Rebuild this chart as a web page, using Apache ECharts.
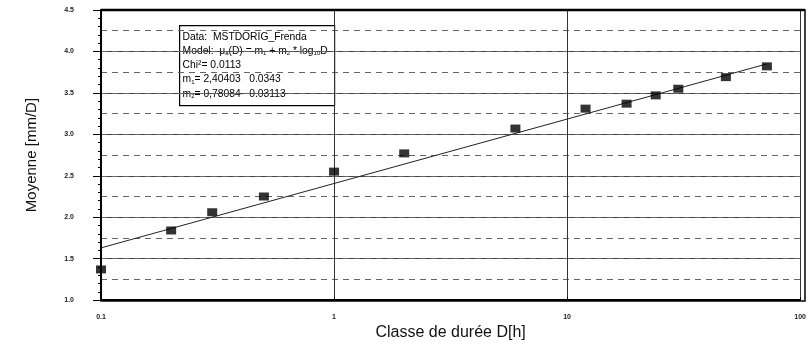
<!DOCTYPE html>
<html><head><meta charset="utf-8">
<script src="https://cdn.jsdelivr.net/npm/echarts@6/dist/echarts.min.js"></script>
<style>html,body{margin:0;padding:0;background:#fff}#c{width:809px;height:346px}</style>
</head><body><div id="c"></div>
<script>
var durations = [0.1, 0.2, 0.3, 0.5, 1, 2, 6, 12, 18, 24, 30, 48, 72];
var means = [1.37, 1.84, 2.06, 2.25, 2.55, 2.77, 3.07, 3.31, 3.37, 3.47, 3.55, 3.69, 3.82];
var fitX = [0.1, 72];
var fitY = [1.63, 3.85];
var yTicks = ['1.0','1.5','2.0','2.5','3.0','3.5','4.0','4.5'];
var xTicks = ['0.1','1','10','100'];

var pts = durations.map(function(d,i){return [d, means[i]];});
var fit = fitX.map(function(d,i){return [d, fitY[i]];});
var chart = echarts.init(document.getElementById('c'));
var F = 'Liberation Sans, Arial, sans-serif';
chart.setOption({
  animation:false,
  backgroundColor:'#fff',
  grid:{left:101, right:4, top:10, bottom:45, show:false},
  xAxis:{type:'log', logBase:10, min:0.1, max:100,
    name:'Classe de durée D[h]', nameLocation:'middle', nameGap:18,
    nameTextStyle:{fontFamily:F, fontSize:16, color:'#111'},
    axisLine:{show:true, onZero:false, lineStyle:{color:'#000', width:2}},
    axisTick:{show:true, inside:true, length:3, lineStyle:{color:'#000'}},
    axisLabel:{fontFamily:F, fontSize:7, fontWeight:'bold', color:'#222', margin:13,
      formatter:function(v){var s=String(+v.toPrecision(3)); return xTicks.indexOf(s)>=0?s:'';}},
    splitLine:{show:true, lineStyle:{color:'#333', width:1}}
  },
  yAxis:[{type:'value', min:1, max:4.5, interval:0.5,
    name:'Moyenne [mm/D]', nameLocation:'middle', nameGap:62,
    nameTextStyle:{fontFamily:F, fontSize:15, color:'#111'},
    axisLine:{show:true, lineStyle:{color:'#000', width:2}},
    axisTick:{show:true, length:8, lineStyle:{color:'#000'}},
    minorTick:{show:true, splitNumber:5, length:3, lineStyle:{color:'#000'}},
    axisLabel:{fontFamily:F, fontSize:7, fontWeight:'bold', color:'#222', margin:27,
      formatter:function(v){var s=v.toFixed(1); return yTicks.indexOf(s)>=0?s:'';}},
    splitLine:{show:true, lineStyle:{color:'#444', width:1}}
  },{type:'value', min:1, max:4.5, interval:0.25, position:'left',
    axisLine:{show:false}, axisTick:{show:false}, axisLabel:{show:false},
    splitLine:{show:true, lineStyle:{color:'#666', width:1, type:[6,5]}}
  }],
  graphic:[
    {type:'rect', shape:{x:101, y:10, width:704, height:291}, style:{fill:'none', stroke:'#000', lineWidth:1.5}, z:10},
    {type:'line', shape:{x1:101, y1:10, x2:805, y2:10}, style:{stroke:'#000', lineWidth:2.5}, z:10},
    {type:'group', left:179, top:25, z:20, children:[
      {type:'rect', shape:{x:0, y:0, width:155, height:80}, style:{fill:'#fff', stroke:'#000', lineWidth:1.2}},
      {type:'text', x:3, y:4, style:{
        text:'Data:  MSTDORIG_Frenda\nModel:  \u03bc{s|a}(D) = m{s|1} + m{s|2} * log{s|10}D\nChi\u00b2= 0.0113\nm{s|1}= 2,40403   0.0343\nm{s|2}= 0,78084   0.03113',
        fontFamily:F, fontSize:10.3, lineHeight:14.3, fill:'#000',
        rich:{s:{fontSize:6, fontFamily:F, fill:'#000', padding:[5,0,0,0], lineHeight:14.3}}
      }}
    ]}
  ],
  series:[
    {type:'line', data:fit, showSymbol:false, symbol:'none', lineStyle:{color:'#222', width:1}, z:3},
    {type:'scatter', data:pts, symbol:'rect', symbolSize:[10,8], itemStyle:{color:'#000'}, z:5}
  ]
});
</script></body></html>
